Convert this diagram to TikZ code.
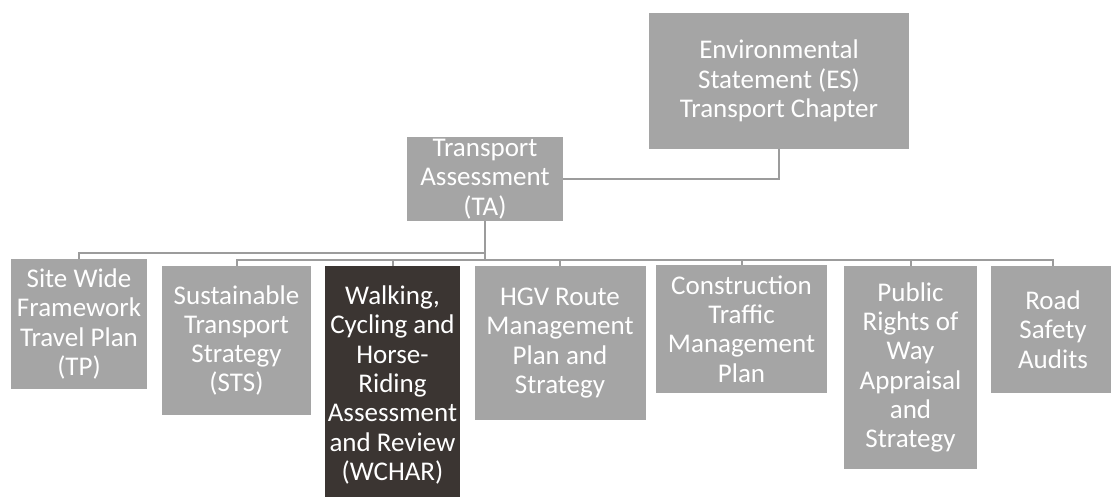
\documentclass[tikz,border=0pt]{standalone}
\usepackage{fontspec}
\setmainfont{Carlito}
\definecolor{boxgray}{HTML}{A5A5A5}
\definecolor{boxdark}{HTML}{3B3532}
\definecolor{linegray}{HTML}{9C9C9C}
\begin{document}
\begin{tikzpicture}[x=1pt, y=-1pt,
    blk/.style={fill=boxgray, text=white, inner sep=0pt, align=center,
                font=\fontsize{27}{29.3}\selectfont},
    conn/.style={draw=linegray, line width=2pt}]
        \useasboundingbox (0,0) rectangle (1111,497);

        % top boxes
        \node[blk, minimum width=260, minimum height=136] (es) at (779,81) {Environmental\\Statement (ES)\\Transport Chapter};
        \node[blk, minimum width=156, minimum height=84] (ta) at (485,179) {Transport\\Assessment\\(TA)};

        % bottom row
        \node[blk, minimum width=136, minimum height=130] (tp) at (79,324) {Site Wide\\Framework\\Travel Plan\\(TP)};
        \node[blk, minimum width=149, minimum height=149] (sts) at (236.5,340.5) {Sustainable\\Transport\\Strategy\\(STS)};
        \node[blk, fill=boxdark, minimum width=135, minimum height=238] (wchar) at (392.5,385) {Walking,\\Cycling and\\Horse-\\Riding\\Assessment\\and Review\\(WCHAR)};
        \node[blk, minimum width=171, minimum height=154] (hgv) at (560,343) {HGV Route\\Management\\Plan and\\Strategy};
        \node[blk, minimum width=171, minimum height=128] (ctmp) at (741.5,329) {Construction\\Traffic\\Management\\Plan};
        \node[blk, minimum width=133, minimum height=203] (prow) at (910.5,367.5) {Public\\Rights of\\Way\\Appraisal\\and\\Strategy};
        \node[blk, minimum width=124, minimum height=127] (rsa) at (1053,329.5) {Road\\Safety\\Audits};

        % connectors
        \coordinate (busup) at (0,253);
        \coordinate (buslow) at (0,260);
        \draw[conn] (es.south) |- (ta.east);
        \draw[conn] (ta.south) -- (ta.south |- buslow);
        \draw[conn] (tp.north) -- (tp.north |- busup) -| (ta.south);
        \draw[conn] (sts.north) -- (sts.north |- buslow) -- (rsa.north |- buslow) -- (rsa.north);
        \foreach \n in {wchar, hgv, ctmp, prow}
            \draw[conn] (\n.north) -- (\n.north |- buslow);
    \end{tikzpicture}
\end{document}
